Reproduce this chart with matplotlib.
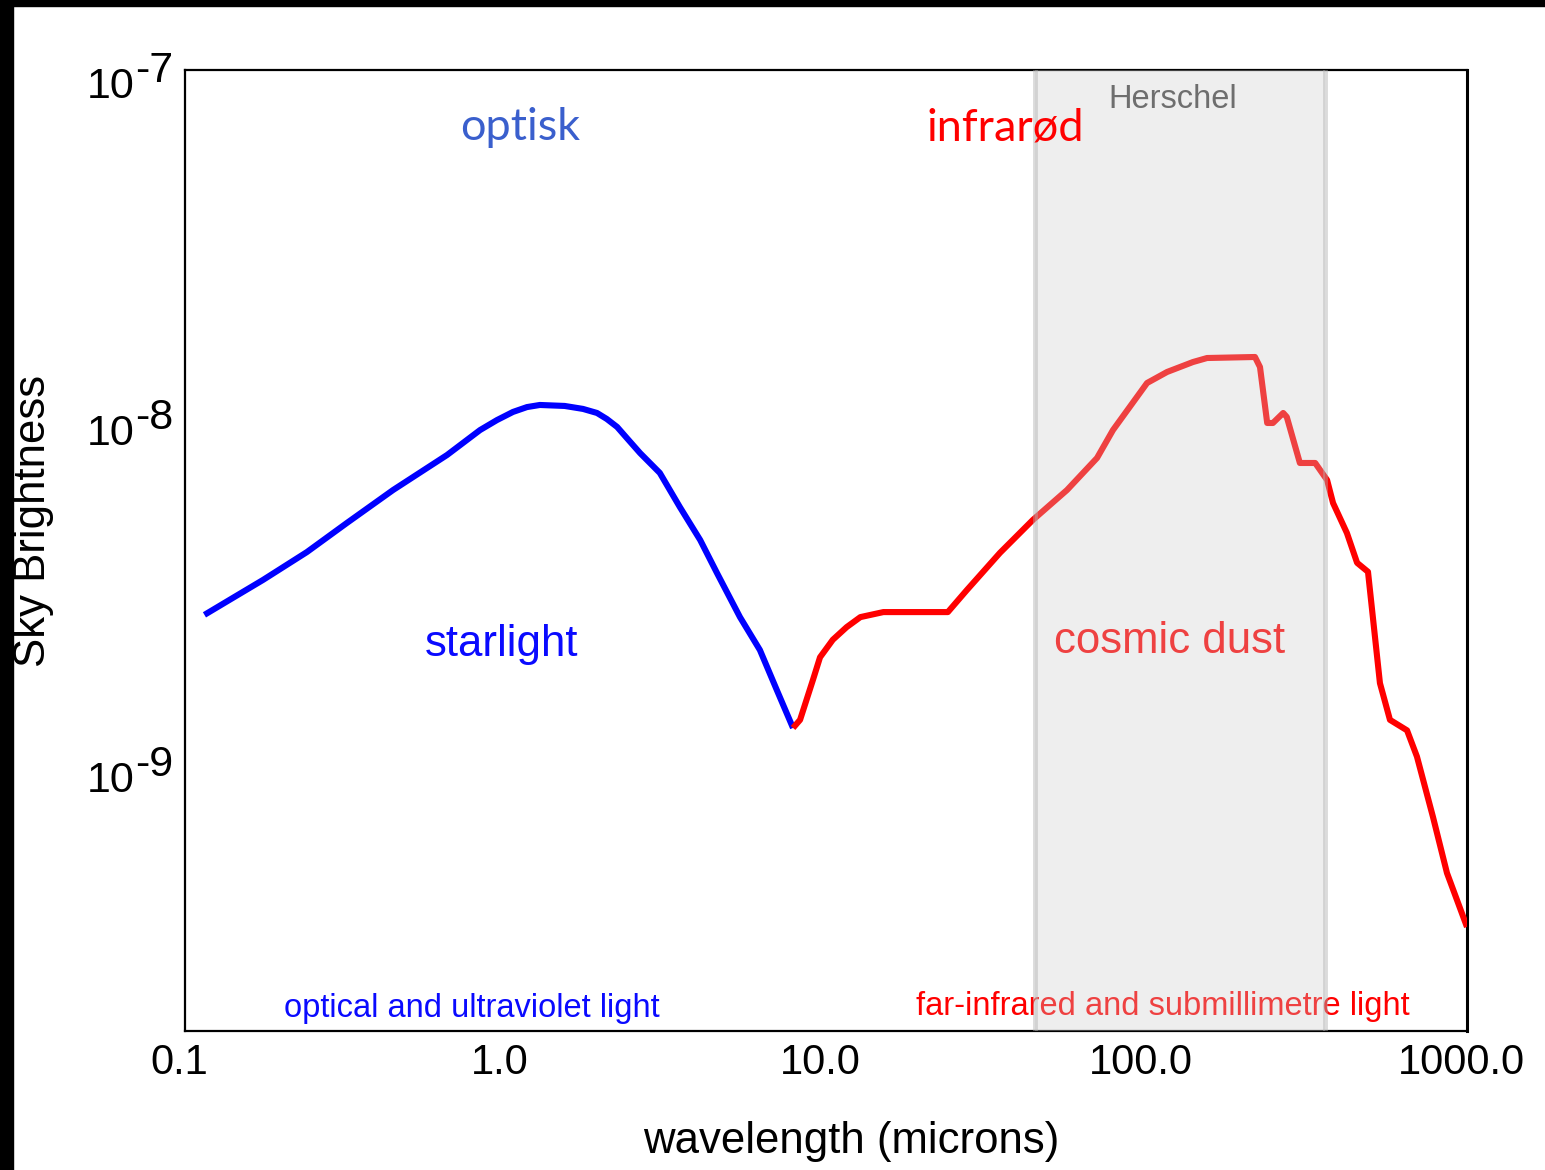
import matplotlib
matplotlib.use("Agg")
import matplotlib.pyplot as plt
from matplotlib.patches import Rectangle

plt.rcParams['font.family'] = ['Liberation Sans', 'DejaVu Sans']

# starlight branch (microns, sky brightness)
star_wl = [0.115, 0.141, 0.175, 0.240, 0.320, 0.446, 0.657, 0.833, 0.941,
           1.055, 1.167, 1.28, 1.53, 1.745, 1.93, 2.07, 2.23, 2.39, 2.63,
           3.03, 3.50, 4.05, 4.57, 5.39, 6.22, 7.03, 7.89]
star_sb = [2.69e-9, 3.01e-9, 3.39e-9, 4.08e-9, 4.95e-9, 6.16e-9, 7.77e-9,
           9.17e-9, 9.80e-9, 1.034e-8, 1.068e-8, 1.083e-8, 1.076e-8,
           1.055e-8, 1.027e-8, 9.87e-9, 9.36e-9, 8.70e-9, 7.87e-9, 6.90e-9,
           5.50e-9, 4.42e-9, 3.55e-9, 2.65e-9, 2.13e-9, 1.63e-9, 1.27e-9]

# dust branch
dust_wl = [7.89, 8.30, 9.11, 9.58, 10.5, 11.6, 12.8, 15.1, 24.0, 27.5, 34.9,
           44.2, 56.5, 70.1, 78.6, 100.4, 115.9, 139.6, 154.5, 218, 226, 238,
           248, 267, 274, 301, 336, 366, 382, 422, 454, 491, 535, 575, 650,
           698, 783, 866, 1000]
dust_sb = [1.27e-9, 1.34e-9, 1.75e-9, 2.03e-9, 2.28e-9, 2.48e-9, 2.65e-9,
           2.74e-9, 2.74e-9, 3.17e-9, 4.06e-9, 5.05e-9, 6.16e-9, 7.62e-9,
           9.17e-9, 1.253e-8, 1.348e-8, 1.44e-8, 1.479e-8, 1.489e-8, 1.393e-8,
           9.61e-9, 9.61e-9, 1.027e-8, 1.0e-8, 7.37e-9, 7.37e-9, 6.58e-9,
           5.65e-9, 4.63e-9, 3.80e-9, 3.58e-9, 1.71e-9, 1.34e-9, 1.25e-9,
           1.05e-9, 7.04e-10, 4.85e-10, 3.39e-10]

# Herschel coverage
herschel_band = [45, 360]

xtick_vals = [0.1, 1, 10, 100, 1000]
xtick_labels = ['0.1', '1.0', '10.0', '100.0', '1000.0']
ytick_vals = [1e-9, 1e-8, 1e-7]
ytick_exps = ['-9', '-8', '-7']

fig = plt.figure(figsize=(15.45, 11.7), dpi=100)
ax = fig.add_axes([185 / 1545, 1 - 1031 / 1170, 1282 / 1545, 961 / 1170])

ax.plot(star_wl, star_sb, color='#0000ff', lw=4.4, solid_joinstyle='round',
        solid_capstyle='butt', zorder=3)
ax.plot(dust_wl, dust_sb, color='#ff0000', lw=4.4, solid_joinstyle='round',
        solid_capstyle='butt', zorder=3)

ax.set_xscale('log')
ax.set_yscale('log')
ax.set_xlim(0.1, 1000)
ax.set_ylim(1.7e-10, 1e-7)

ax.set_xticks(xtick_vals)
ax.set_xticklabels([''] * len(xtick_vals))
ax.xaxis.set_minor_locator(matplotlib.ticker.NullLocator())
ax.set_yticks(ytick_vals)
ax.set_yticklabels([''] * len(ytick_vals))
ax.yaxis.set_minor_locator(matplotlib.ticker.NullLocator())
ax.tick_params(length=0)

# x labels sit a little left of their ticks
for val, lab in zip(xtick_vals, xtick_labels):
    ax.annotate(lab, xy=(val, 0), xycoords=('data', 'axes fraction'),
                xytext=(-6, -12), textcoords='offset pixels',
                ha='center', va='top', fontsize=30)

# y labels as "10" with a full-size exponent
for val, exp in zip(ytick_vals, ytick_exps):
    ax.annotate('10', xy=(0, val), xycoords=('axes fraction', 'data'),
                xytext=(-51, -28), textcoords='offset pixels',
                ha='right', va='baseline', fontsize=31)
    ax.annotate(exp, xy=(0, val), xycoords=('axes fraction', 'data'),
                xytext=(-50, -12), textcoords='offset pixels',
                ha='left', va='baseline', fontsize=31)

for side in ax.spines.values():
    side.set_linewidth(1.6)
ax.spines['right'].set_linewidth(2.2)

# translucent band laid over the curves
ax.axvspan(herschel_band[0], herschel_band[1], facecolor='#cbcbcb',
           alpha=0.32, lw=0, zorder=5)
for edge in herschel_band:
    ax.axvline(edge, color='#b0b0b0', lw=3.5, alpha=0.45, zorder=5)

ax.text(0.7707, 0.9688, 'Herschel', transform=ax.transAxes, ha='center',
        va='center', fontsize=23.5, color='#6e6e6e', zorder=6)
ax.text(0.2613, 0.940, 'optisk', transform=ax.transAxes, ha='center',
        va='center', fontsize=32.5, color='#3a5fcd', family='Lato', zorder=6)
ax.text(0.6396, 0.940, 'infrarød', transform=ax.transAxes, ha='center',
        va='center', fontsize=32.5, color='#ff0000', family='Lato', zorder=6)

ax.text(0.2473, 0.4020, 'starlight', transform=ax.transAxes, ha='center',
        va='center', fontsize=31.5, color='#0a0aff', zorder=4)
ax.text(0.7683, 0.4050, 'cosmic dust', transform=ax.transAxes, ha='center',
        va='center', fontsize=31.5, color='#ff0000', zorder=4)
ax.text(0.2239, 0.0239, 'optical and ultraviolet light', transform=ax.transAxes,
        ha='center', va='center', fontsize=23.5, color='#0a0aff', zorder=4)
ax.text(0.7629, 0.026, 'far-infrared and submillimetre light',
        transform=ax.transAxes, ha='center', va='center', fontsize=23.5,
        color='#ff0000', zorder=4)

fig.text(851 / 1545, 1 - 1141 / 1170, 'wavelength (microns)', ha='center',
         va='center', fontsize=31.5)
fig.text(34 / 1545, 1 - 521 / 1170, 'Sky Brightness', ha='center',
         va='center', rotation=90, fontsize=31.5)

# dark frame along the top and left edges
fig.patches.append(Rectangle((0, 1 - 6 / 1170), 1, 6 / 1170,
                             transform=fig.transFigure, color='black'))
fig.patches.append(Rectangle((0, 0), 13 / 1545, 1,
                             transform=fig.transFigure, color='black'))

fig.savefig('out.png', dpi=100)
